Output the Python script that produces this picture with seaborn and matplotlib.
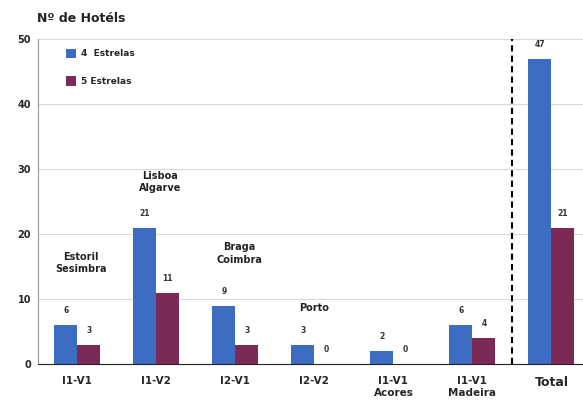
import pandas as pd
import matplotlib.pyplot as plt
import seaborn as sns

# --- data ---
categories = ["I1-V1", "I1-V2", "I2-V1", "I2-V2", "I1-V1\nAcores", "I1-V1\nMadeira", "Total"]
stars4 = [6, 21, 9, 3, 2, 6, 47]
stars5 = [3, 11, 3, 0, 0, 4, 21]
series = ["4  Estrelas", "5 Estrelas"]
regions = ["Estoril\nSesimbra", "Lisboa\nAlgarve", "Braga\nCoimbra", "Porto"]
region_y = [15.5, 28.0, 17.0, 8.6]

BLUE = "#3C6DC3"
MAROON = "#7A2A55"

df = pd.DataFrame({
    "cat": categories * 2,
    "val": stars4 + stars5,
    "serie": [series[0]] * len(categories) + [series[1]] * len(categories),
})

sns.set_style("white")
fig = plt.figure(figsize=(5.83, 4.0), dpi=100)
ax = fig.add_axes([0.065, 0.09, 0.935, 0.8125])

sns.barplot(data=df, x="cat", y="val", hue="serie", palette=[BLUE, MAROON],
            width=0.58, saturation=1, linewidth=0, ax=ax, legend=True)

ax.set_ylim(0, 50)
ax.set_xlim(-0.5, 6.4)
ax.set_yticks(range(0, 51, 10))
ax.yaxis.grid(True, color="#d9d9d9", lw=0.8)
ax.set_axisbelow(True)
for s in ["top", "right"]:
    ax.spines[s].set_visible(False)
ax.spines["left"].set_color("#999999")
ax.spines["bottom"].set_color("#222222")
ax.set_xlabel("")
ax.set_ylabel("")

# tick labels
ax.tick_params(axis="y", length=3, color="#999999", labelsize=7, pad=2)
for t in ax.get_yticklabels():
    t.set_fontweight("bold")
ax.tick_params(axis="x", which="major", length=0, pad=9, labelsize=7.5)
for t in ax.get_xticklabels():
    t.set_fontweight("bold")
    if t.get_text() == "Total":
        t.set_fontsize(9)
ax.set_xticks([i + 0.5 for i in range(6)], minor=True)
ax.tick_params(axis="x", which="minor", length=6, direction="inout", color="#222222")

# value labels
for cont in ax.containers:
    ax.bar_label(cont, padding=7, fontsize=5.5, fontweight="bold", color="#333333")

# region annotations
for i, (txt, y) in enumerate(zip(regions, region_y)):
    ax.text(i + 0.05 if i < 3 else i, y, txt, ha="center", va="center",
            fontsize=7, fontweight="bold", color="#222222", linespacing=1.3)

# dashed separator before Total
ax.axvline(5.5, color="black", ls=(0, (3, 2)), lw=1.5)

# legend
ax.legend(loc="upper left", bbox_to_anchor=(0.036, 0.995), frameon=False,
          handlelength=1.2, handleheight=1.2, handletextpad=0.5, labelspacing=2.0,
          prop={"size": 6.5, "weight": "bold"})

fig.text(0.063, 0.955, "Nº de Hotéls", fontsize=9, fontweight="bold",
         color="#222222", ha="left", va="center")

fig.savefig("out.png", dpi=100)
